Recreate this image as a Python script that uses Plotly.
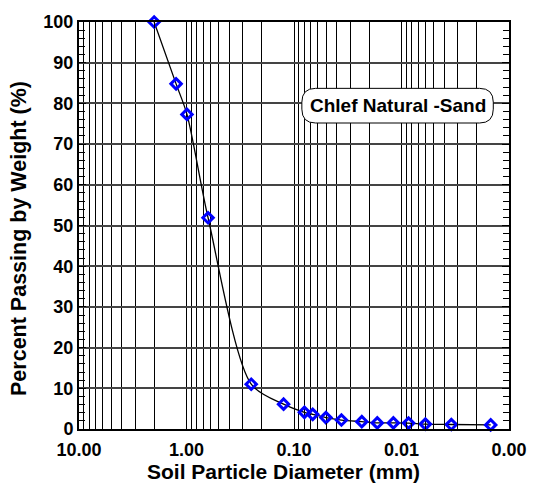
import plotly.graph_objects as go

# Data
diameter_mm = [2.0, 1.25, 0.99, 0.63, 0.25, 0.125, 0.08, 0.067, 0.0505, 0.0362,
               0.0234, 0.0168, 0.0119, 0.0086, 0.0060, 0.00344, 0.00148]
percent_passing = [100, 84.8, 77.3, 51.9, 11.0, 6.1, 4.1, 3.6, 2.8, 2.2,
                   1.8, 1.5, 1.5, 1.45, 1.2, 1.1, 1.0]
x_tickvals = [10, 1, 0.1, 0.01, 0.001]
x_ticktext = ["<b>10.00</b>", "<b>1.00</b>", "<b>0.10</b>", "<b>0.01</b>", "<b>0.00</b>"]
y_tickvals = [0, 10, 20, 30, 40, 50, 60, 70, 80, 90, 100]
y_ticktext = ["<b>%d</b>" % v for v in y_tickvals]
x_minor = [m * 10.0 ** e for e in [0, -1, -2, -3] for m in range(2, 10)]
label_text = "<b>Chlef Natural -Sand</b>"

W, H = 539, 484
L, R, T, B = 79, 22, 18, 55
PW, PH = W - L - R, H - T - B

FONT = "Arial, Liberation Sans, sans-serif"

fig = go.Figure()
fig.add_trace(go.Scatter(
    x=diameter_mm, y=percent_passing, mode="lines",
    line=dict(color="black", width=1.3, shape="spline", smoothing=0.8),
    hoverinfo="skip", showlegend=False, cliponaxis=False))
fig.add_trace(go.Scatter(
    x=diameter_mm, y=percent_passing, mode="markers",
    marker=dict(symbol="diamond-open", size=8, color="blue",
                line=dict(color="blue", width=3)),
    showlegend=False, cliponaxis=False))

# rounded label box in paper coordinates
bx0, bx1, by0, by1, rad = 306, 501, 85, 120, 14
def px(x):
    return (x - L) / PW
def py(y):
    return (H - B - y) / PH
rx, ry = rad / PW, rad / PH
x0, x1, y0, y1 = px(bx0), px(bx1), py(by1), py(by0)
path = (f"M {x0+rx},{y0} L {x1-rx},{y0} Q {x1},{y0} {x1},{y0+ry} "
        f"L {x1},{y1-ry} Q {x1},{y1} {x1-rx},{y1} L {x0+rx},{y1} "
        f"Q {x0},{y1} {x0},{y1-ry} L {x0},{y0+ry} Q {x0},{y0} {x0+rx},{y0} Z")
fig.add_shape(type="path", path=path, xref="paper", yref="paper",
              line=dict(color="black", width=1), fillcolor="white", layer="above")
fig.add_annotation(text=label_text, xref="paper", yref="paper",
                   x=(x0 + x1) / 2, y=(y0 + y1) / 2, xanchor="center", yanchor="middle",
                   showarrow=False,
                   font=dict(family=FONT, size=19, color="black"))

# axis titles
fig.add_annotation(text="<b>Soil Particle Diameter (mm)</b>", xref="paper", yref="paper",
                   x=px(287), y=py(472), xanchor="center", yanchor="middle",
                   showarrow=False,
                   font=dict(family=FONT, size=21, color="black"))
fig.add_annotation(text="<b>Percent Passing by Weight (%)</b>", xref="paper", yref="paper",
                   x=px(18), y=py(237), xanchor="center", yanchor="middle",
                   showarrow=False, textangle=-90,
                   font=dict(family=FONT, size=21.5, color="black"))

fig.update_xaxes(
    type="log", range=[1, -3], tickvals=x_tickvals, ticktext=x_ticktext,
    showgrid=True, gridcolor="black", gridwidth=1,
    showline=True, linecolor="black", linewidth=2, mirror="ticks",
    ticks="inside", ticklen=6, tickcolor="black", ticklabelstandoff=3,
    tickfont=dict(family=FONT, size=18, color="black"),
    minor=dict(tickvals=x_minor, showgrid=True, gridcolor="black", gridwidth=1,
               ticks="inside", ticklen=6, tickcolor="black"),
    zeroline=False,
)
fig.update_yaxes(
    range=[0, 100], tickvals=y_tickvals, ticktext=y_ticktext,
    showgrid=True, gridcolor="#444444", gridwidth=1.5,
    showline=True, linecolor="black", linewidth=2, mirror="ticks",
    ticks="inside", ticklen=7, tickcolor="black",
    tickfont=dict(family=FONT, size=18, color="black"),
    minor=dict(dtick=2, ticks="inside", ticklen=6, tickcolor="black", showgrid=False),
    zeroline=False,
)
fig.update_layout(
    width=W, height=H, margin=dict(l=L, r=R, t=T, b=B),
    plot_bgcolor="white", paper_bgcolor="white", showlegend=False,
)
fig.write_html("out.html")
